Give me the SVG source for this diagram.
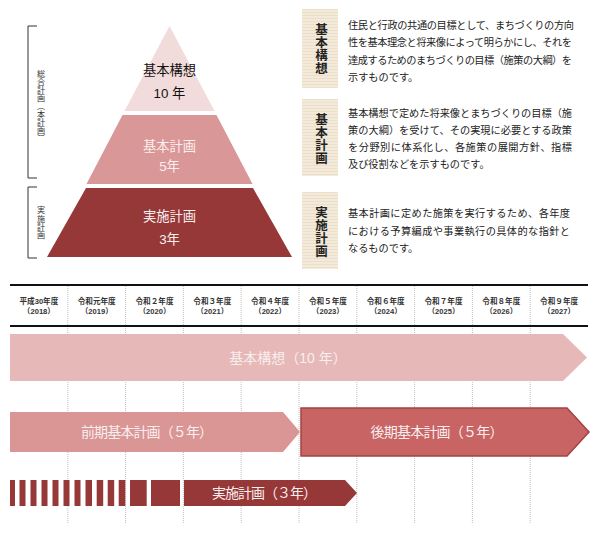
<svg xmlns="http://www.w3.org/2000/svg" width="600" height="533" viewBox="0 0 600 533">
<defs>
<style>
text{font-family:'Liberation Sans','Noto Sans CJK JP',sans-serif;}
.vt{writing-mode:vertical-rl;text-anchor:middle;}
.vc{font-size:8.1px;fill:#333;}
.para{font-size:10.2px;fill:#222;}
.lbl{font-size:12.5px;font-weight:bold;fill:#222;letter-spacing:0.5px;}
.hd{font-size:7.6px;font-weight:bold;fill:#333;text-anchor:middle;}
.bartxt{font-size:14px;fill:#f9eeee;text-anchor:middle;}
.pyr{font-size:13.3px;text-anchor:middle;}
.grid{stroke:#b0b0b0;stroke-width:0.8;stroke-dasharray:1 1;fill:none;}
.brk{stroke:#333;stroke-width:1;fill:none;}
</style>
<pattern id="beige" width="3" height="3" patternUnits="userSpaceOnUse">
<rect width="3" height="3" fill="#f3eadb"/>
<rect width="3" height="1" fill="#ebdfc8"/>
</pattern>
</defs>
<rect width="600" height="533" fill="#ffffff"/>

<g id="brackets">
<path class="brk" d="M37,26 H28 V178 H37"/>
<path class="brk" d="M37,187 H28 V258 H37"/>
<text class="vt vc" x="40" y="106">総合計画（本計画）</text>
<text class="vt vc" x="40" y="222.5">実施計画</text>
</g>

<g id="pyramid-top">
<polygon points="169.5,26 214.5,111 124.5,111" fill="#f2dbdb"/>
<text class="pyr" x="169.5" y="75" fill="#111">基本構想</text>
<text class="pyr" x="169.5" y="97.5" fill="#111">10 年</text>
</g>
<g id="pyramid-mid">
<polygon points="122.5,115 216.5,115 252.5,184 86.5,184" fill="#da9797"/>
<text class="pyr" x="169.5" y="150.5" fill="#fbeeee">基本計画</text>
<text class="pyr" x="169.5" y="171" fill="#fbeeee">5年</text>
</g>
<g id="pyramid-bottom">
<polygon points="86,188 253,188 292,257 47,257" fill="#963838"/>
<text class="pyr" x="169.5" y="221" fill="#fbeeee">実施計画</text>
<text class="pyr" x="169.5" y="244" fill="#fbeeee">3年</text>
</g>

<g id="desc-kihonkoso">
<rect x="302" y="9" width="36" height="79" fill="url(#beige)"/>
<text class="vt lbl" x="320" y="49">基本構想</text>
<text class="para" x="348" y="28.7" textLength="226" lengthAdjust="spacing">住民と行政の共通の目標として、まちづくりの方向</text>
<text class="para" x="348" y="46.2" textLength="224" lengthAdjust="spacing">性を基本理念と将来像によって明らかにし、それを</text>
<text class="para" x="348" y="63.7" textLength="224" lengthAdjust="spacing">達成するためのまちづくりの目標（施策の大綱）を</text>
<text class="para" x="348" y="81.2">示すものです。</text>
</g>

<g id="desc-kihonkeikaku">
<rect x="302" y="99" width="36" height="77" fill="url(#beige)"/>
<text class="vt lbl" x="320" y="139">基本計画</text>
<text class="para" x="348" y="116.5" textLength="224" lengthAdjust="spacing">基本構想で定めた将来像とまちづくりの目標（施</text>
<text class="para" x="348" y="133.8" textLength="224" lengthAdjust="spacing">策の大綱）を受けて、その実現に必要とする政策</text>
<text class="para" x="348" y="151.1" textLength="224" lengthAdjust="spacing">を分野別に体系化し、各施策の展開方針、指標</text>
<text class="para" x="348" y="168.4">及び役割などを示すものです。</text>
</g>

<g id="desc-jisshi">
<rect x="302" y="192" width="36" height="77" fill="url(#beige)"/>
<text class="vt lbl" x="320" y="231.5">実施計画</text>
<text class="para" x="348" y="217.1" textLength="222" lengthAdjust="spacing">基本計画に定めた施策を実行するため、各年度</text>
<text class="para" x="348" y="234.6" textLength="222" lengthAdjust="spacing">における予算編成や事業執行の具体的な指針と</text>
<text class="para" x="348" y="251.6">なるものです。</text>
</g>

<g id="timeline-grid">
<line class="grid" x1="67.8" y1="286" x2="67.8" y2="523"/>
<line class="grid" x1="125.6" y1="286" x2="125.6" y2="523"/>
<line class="grid" x1="183.4" y1="286" x2="183.4" y2="523"/>
<line class="grid" x1="241.2" y1="286" x2="241.2" y2="523"/>
<line class="grid" x1="299" y1="286" x2="299" y2="523"/>
<line class="grid" x1="356.8" y1="286" x2="356.8" y2="523"/>
<line class="grid" x1="414.6" y1="286" x2="414.6" y2="523"/>
<line class="grid" x1="472.4" y1="286" x2="472.4" y2="523"/>
<line class="grid" x1="530.2" y1="286" x2="530.2" y2="523"/>
<line x1="10" y1="285" x2="588" y2="285" stroke="#111" stroke-width="2"/>
<line x1="10" y1="326" x2="588" y2="326" stroke="#111" stroke-width="2"/>
</g>

<g id="timeline-header">
<text class="hd" x="38.9" y="303.5">平成30年度</text><text class="hd" x="38.9" y="313.5">（2018）</text>
<text class="hd" x="96.7" y="303.5">令和元年度</text><text class="hd" x="96.7" y="313.5">（2019）</text>
<text class="hd" x="154.5" y="303.5">令和２年度</text><text class="hd" x="154.5" y="313.5">（2020）</text>
<text class="hd" x="212.3" y="303.5">令和３年度</text><text class="hd" x="212.3" y="313.5">（2021）</text>
<text class="hd" x="270.1" y="303.5">令和４年度</text><text class="hd" x="270.1" y="313.5">（2022）</text>
<text class="hd" x="327.9" y="303.5">令和５年度</text><text class="hd" x="327.9" y="313.5">（2023）</text>
<text class="hd" x="385.7" y="303.5">令和６年度</text><text class="hd" x="385.7" y="313.5">（2024）</text>
<text class="hd" x="443.5" y="303.5">令和７年度</text><text class="hd" x="443.5" y="313.5">（2025）</text>
<text class="hd" x="501.3" y="303.5">令和８年度</text><text class="hd" x="501.3" y="313.5">（2026）</text>
<text class="hd" x="559.1" y="303.5">令和９年度</text><text class="hd" x="559.1" y="313.5">（2027）</text>
</g>

<g id="bar-kihonkoso">
<polygon points="10,334 563,334 587,357.5 563,381 10,381" fill="#e6b8b8"/>
<text class="bartxt" x="288" y="362.5" fill="#f6e6e6">基本構想（10 年）</text>
</g>

<g id="bar-zenki">
<polygon points="10,412 283,412 300,432 283,452 10,452" fill="#da9595"/>
<text class="bartxt" x="147" y="437" textLength="132" lengthAdjust="spacing">前期基本計画（５年）</text>
</g>

<g id="bar-koki">
<polygon points="301,408 567,408 589,432 567,456 301,456" fill="#c86464" stroke="#a24242" stroke-width="1.5"/>
<text class="bartxt" x="437" y="437" textLength="133" lengthAdjust="spacing">後期基本計画（５年）</text>
</g>

<g id="bar-jisshi" fill="#963838">
<rect x="10" y="480" width="5" height="26"/>
<rect x="19.5" y="480" width="6" height="26"/>
<rect x="30.5" y="480" width="6" height="26"/>
<rect x="41.5" y="480" width="6" height="26"/>
<rect x="52.5" y="480" width="6" height="26"/>
<rect x="63.5" y="480" width="6" height="26"/>
<rect x="74.5" y="480" width="6" height="26"/>
<rect x="85.5" y="480" width="6.5" height="26"/>
<rect x="96.7" y="480" width="6.5" height="26"/>
<rect x="107.7" y="480" width="6.5" height="26"/>
<rect x="118.7" y="480" width="6.6" height="26"/>
<rect x="130" y="480" width="16.7" height="26"/>
<rect x="151" y="480" width="29" height="26"/>
<polygon points="184,480 345,480 357,493 345,506 184,506"/>
<text class="bartxt" x="264.5" y="498" textLength="105" lengthAdjust="spacing">実施計画（３年）</text>
</g>
</svg>
